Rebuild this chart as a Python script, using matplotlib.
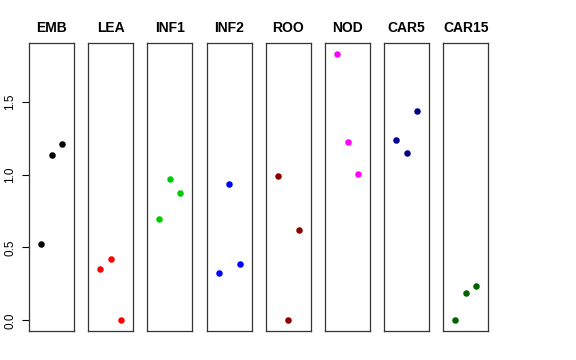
import numpy as np
import matplotlib.pyplot as plt

plt.rcParams['font.family'] = ['Liberation Sans', 'DejaVu Sans']

groups = ['EMB', 'LEA', 'INF1', 'INF2', 'ROO', 'NOD', 'CAR5', 'CAR15']
colors = ['black', '#FF0000', '#00CD00', '#0000FF', '#8B0000', '#FF00FF', '#00008B', '#006400']
emb = [0.524, 1.132, 1.210]
lea = [0.350, 0.423, 0.000]
inf1 = [0.693, 0.968, 0.876]
inf2 = [0.323, 0.938, 0.389]
roo = [0.993, 0.000, 0.620]
nod = [1.830, 1.224, 1.002]
car5 = [1.235, 1.150, 1.437]
car15 = [0.000, 0.185, 0.237]
values = [emb, lea, inf1, inf2, roo, nod, car5, car15]
reps = [1, 2, 3]

W, H = 576, 360
fig = plt.figure(figsize=(W / 100, H / 100), dpi=100)

ymax = max(max(v) for v in values)
pad = ymax * 0.04
ylim = (-pad, ymax + pad)
xlim = (0 - 0.16, 4 + 0.16)

left0, step, pw = 29, 59.2, 45
top, bottom = 43, 331
for i, (g, c, v) in enumerate(zip(groups, colors, values)):
    ax = fig.add_axes([(left0 + i * step) / W, (H - bottom) / H, pw / W, (bottom - top) / H])
    ax.scatter(reps, v, s=22, color=c, zorder=3, linewidths=0)
    ax.set_xlim(xlim)
    ax.set_ylim(ylim)
    ax.set_xticks([])
    ax.set_title(g, fontsize=10, fontweight='bold', pad=8)
    for s in ax.spines.values():
        s.set_linewidth(0.9)
        s.set_color('#333333')
    if i == 0:
        ax.set_yticks([0, 0.5, 1.0, 1.5])
        ax.set_yticklabels(['0.0', '0.5', '1.0', '1.5'], rotation=90, va='center', fontsize=8.5)
        ax.tick_params(axis='y', length=5, width=0.8, pad=4)
    else:
        ax.set_yticks([])

fig.savefig('out.png', dpi=100)
